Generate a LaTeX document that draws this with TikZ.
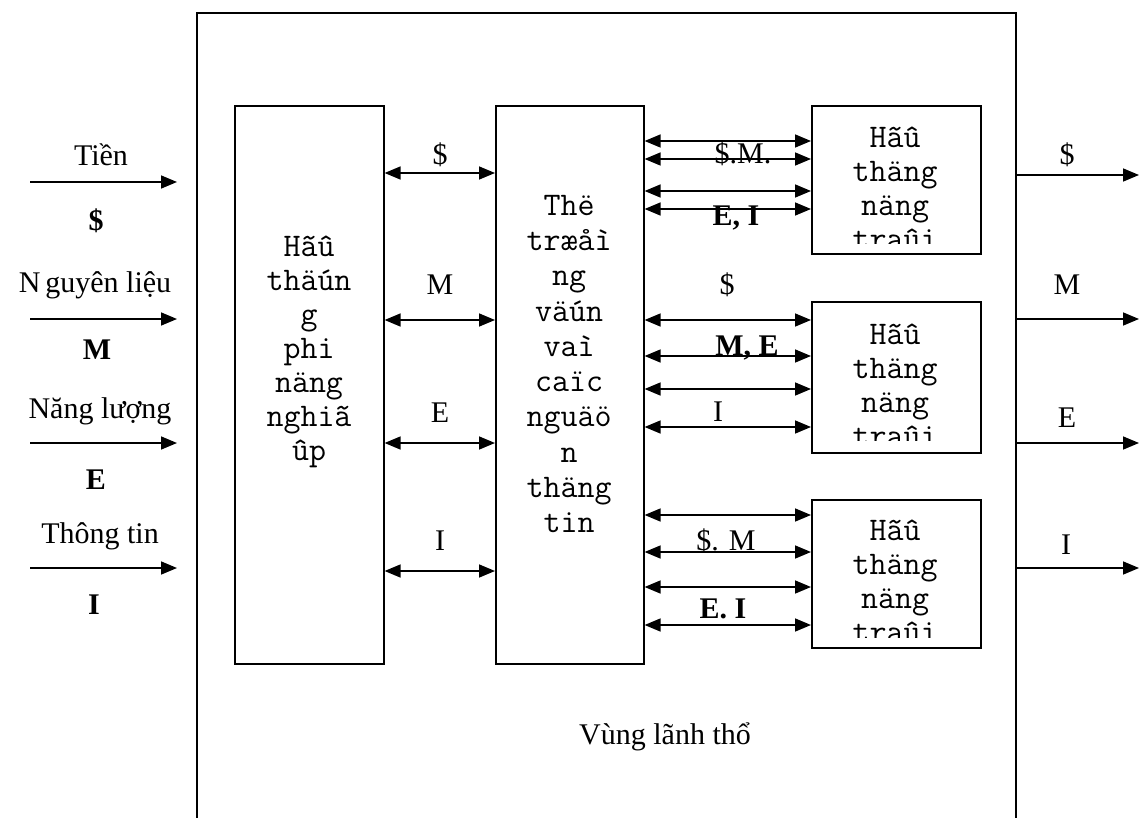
\documentclass[tikz,border=0pt]{standalone}
\usepackage{fontspec}
\setmainfont{Liberation Serif}
\usetikzlibrary{arrows.meta}
\begin{document}
\begin{tikzpicture}[x=1pt,y=-1pt,line width=1.6pt,
  box/.style={draw,line width=1.6pt,rectangle,inner sep=0pt,anchor=north west},
  mtext/.style={font=\ttfamily\fontsize{33}{34}\selectfont,align=center,inner sep=0pt},
  lab/.style={font=\fontsize{30}{36}\selectfont,inner sep=0pt},
  blab/.style={font=\bfseries\fontsize{30}{36}\selectfont,inner sep=0pt},
  dbl/.style={{Triangle[length=16pt,width=13pt]}-{Triangle[length=16pt,width=13pt]}},
  one/.style={-{Triangle[length=16pt,width=13pt]}}]
\useasboundingbox (0,0) rectangle (1139,818);
% outer region frame
\coordinate (fbl) at (197,818);
\coordinate (ftl) at (197,13);
\coordinate (ftr) at (1016,13);
\coordinate (fbr) at (1016,818);
\draw (fbl) -- (ftl) -- (ftr) -- (fbr);
% boxes
\node[box,minimum width=149pt,minimum height=558pt] (b1) at (234,105) {};
\node[box,minimum width=148pt,minimum height=558pt] (b2) at (495,105) {};
\node[box,minimum width=169pt,minimum height=148pt] (ba) at (811,105) {};
\node[box,minimum width=169pt,minimum height=151pt] (bb) at (811,301) {};
\node[box,minimum width=169pt,minimum height=148pt] (bc) at (811,499) {};
% box texts
\node[mtext] (t1) at (309,352) {Hãû\\thäún\\g\\phi\\näng\\nghiã\\ûp};
\node[mtext,font=\ttfamily\fontsize{33}{35.3}\selectfont] (t2) at (569,364) {Thë\\træåì\\ng\\väún\\vaì\\caïc\\nguäö\\n\\thäng\\tin};
\begin{scope}
\clip (811,105) rectangle (980,243);
\node[mtext] (ta) at (895,188) {Hãû\\thäng\\näng\\traûi};
\end{scope}
\begin{scope}
\clip (811,301) rectangle (980,440);
\node[mtext] (tb) at (895,385) {Hãû\\thäng\\näng\\traûi};
\end{scope}
\begin{scope}
\clip (811,499) rectangle (980,637);
\node[mtext] (tc) at (895,581) {Hãû\\thäng\\näng\\traûi};
\end{scope}
% left inputs
\coordinate (i1s) at (30,182); \coordinate (i1e) at (177,182);
\coordinate (i2s) at (30,319); \coordinate (i2e) at (177,319);
\coordinate (i3s) at (30,443); \coordinate (i3e) at (177,443);
\coordinate (i4s) at (30,568); \coordinate (i4e) at (177,568);
\draw[one] (i1s) -- (i1e);
\draw[one] (i2s) -- (i2e);
\draw[one] (i3s) -- (i3e);
\draw[one] (i4s) -- (i4e);
\node[lab] (l1) at (101,155) {Tiền};
\node[blab] (l1b) at (96,221) {\$};
\node[lab] (l2) at (95,285) {N\,guyên liệu};
\node[blab] (l2b) at (97,350) {M};
\node[lab] (l3) at (100,411) {Năng lượng};
\node[blab] (l3b) at (96,480) {E};
\node[lab] (l4) at (100,536) {Thông tin};
\node[blab] (l4b) at (94,605) {I};
% box1 <-> box2
\draw[dbl] (b1.east |- 0,173) -- (b2.west |- 0,173);
\draw[dbl] (b1.east |- 0,320) -- (b2.west |- 0,320);
\draw[dbl] (b1.east |- 0,443) -- (b2.west |- 0,443);
\draw[dbl] (b1.east |- 0,571) -- (b2.west |- 0,571);
\node[lab] (m1) at (440,155) {\$};
\node[lab] (m2) at (440,285) {M};
\node[lab] (m3) at (440,413) {E};
\node[lab] (m4) at (440,541) {I};
% box2 <-> right boxes
\draw[dbl] (b2.east |- 0,141) -- (ba.west |- 0,141);
\draw[dbl] (b2.east |- 0,159) -- (ba.west |- 0,159);
\draw[dbl] (b2.east |- 0,191) -- (ba.west |- 0,191);
\draw[dbl] (b2.east |- 0,209) -- (ba.west |- 0,209);
\node[lab] (ra1) at (743,154) {\$.M.};
\node[blab] (ra2) at (736,218) {E, I};
\draw[dbl] (b2.east |- 0,320) -- (bb.west |- 0,320);
\draw[dbl] (b2.east |- 0,356) -- (bb.west |- 0,356);
\draw[dbl] (b2.east |- 0,389) -- (bb.west |- 0,389);
\draw[dbl] (b2.east |- 0,427) -- (bb.west |- 0,427);
\node[lab] (rb0) at (727,285) {\$};
\node[blab] (rb1) at (747,348) {M, E};
\node[lab] (rb2) at (718,412) {I};
\draw[dbl] (b2.east |- 0,515) -- (bc.west |- 0,515);
\draw[dbl] (b2.east |- 0,552) -- (bc.west |- 0,552);
\draw[dbl] (b2.east |- 0,587) -- (bc.west |- 0,587);
\draw[dbl] (b2.east |- 0,625) -- (bc.west |- 0,625);
\node[lab] (rc1) at (726,541) {\$. M};
\node[blab] (rc2) at (723,609) {E. I};
% outputs
\coordinate (o1e) at (1139,175);
\coordinate (o2e) at (1139,319);
\coordinate (o3e) at (1139,443);
\coordinate (o4e) at (1139,568);
\draw[one] (ftr |- o1e) -- (o1e);
\draw[one] (ftr |- o2e) -- (o2e);
\draw[one] (ftr |- o3e) -- (o3e);
\draw[one] (ftr |- o4e) -- (o4e);
\node[lab] (q1) at (1067,155) {\$};
\node[lab] (q2) at (1067,285) {M};
\node[lab] (q3) at (1067,418) {E};
\node[lab] (q4) at (1066,545) {I};
% region label
\node[lab] (reg) at (665,737) {Vùng lãnh thổ};
\end{tikzpicture}
\end{document}
